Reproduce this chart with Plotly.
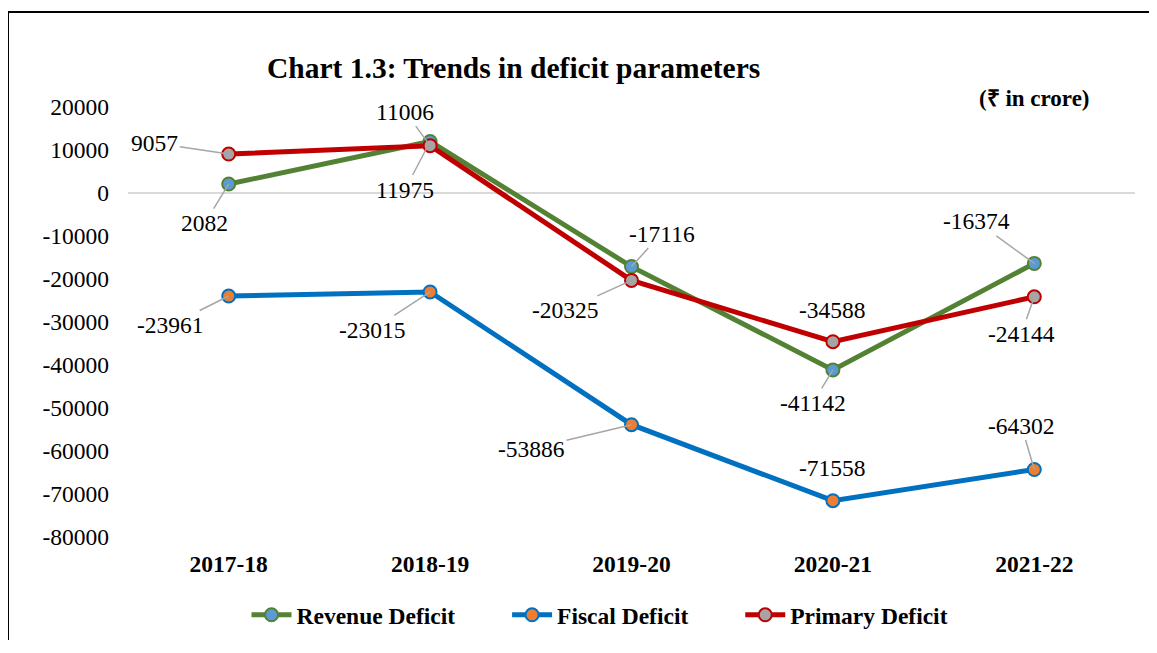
import plotly.graph_objects as go

years = ["2017-18", "2018-19", "2019-20", "2020-21", "2021-22"]
revenue = [2082, 11975, -17116, -41142, -16374]
fiscal = [-23961, -23015, -53886, -71558, -64302]
primary = [9057, 11006, -20325, -34588, -24144]
y_ticks = [20000, 10000, 0, -10000, -20000, -30000, -40000, -50000, -60000, -70000, -80000]

# label offsets (pixels) from each point, and whether a leader line is drawn
rev_off = [(-24, 39), (-25, 48), (30, -33), (-20, 33), (-58, -42)]
fis_off = [(-58, 29), (-58, 38), (-100, 24), (0, -33), (-13, -44)]
pri_off = [(-74, -11), (-25, -34), (-66, 30), (0, -32), (-13, 37)]
rev_lead = [True, True, True, True, True]
fis_lead = [True, True, True, False, True]
pri_lead = [True, True, True, False, True]

FONT = "Liberation Serif, Times New Roman, serif"
FS = 23.5
PAD = "\u00a0" * 8

series = [
    ("Revenue Deficit", revenue, "#548235", "#5B9BD5", rev_off, rev_lead),
    ("Fiscal Deficit", fiscal, "#0070C0", "#ED7D31", fis_off, fis_lead),
    ("Primary Deficit", primary, "#C00000", "#A5A5A5", pri_off, pri_lead),
]

fig = go.Figure()
annotations = []
for i, (name, vals, lc, mc, offs, leads) in enumerate(series):
    fig.add_trace(go.Scatter(
        x=years, y=vals, name=name + (PAD if i < len(series) - 1 else ""),
        mode="lines+markers",
        line=dict(color=lc, width=5),
        marker=dict(size=13, color=mc, line=dict(color=lc, width=2)),
    ))
    for xv, yv, (ax, ay), ld in zip(years, vals, offs, leads):
        annotations.append(dict(
            x=xv, y=yv, xref="x", yref="y", text=str(yv),
            showarrow=True, arrowhead=0, arrowwidth=1.5,
            arrowcolor="#A6A6A6" if ld else "rgba(0,0,0,0)",
            standoff=0, ax=ax, ay=ay,
            font=dict(family=FONT, size=FS, color="black"),
        ))

# screen positions below are page pixels; the page body adds an 8px offset
annotations.append(dict(
    text="<b>Chart 1.3: Trends in deficit parameters</b>",
    xref="paper", yref="paper", x=(513 - 128) / 1007, y=(537 - 68) / 430,
    xanchor="center", yanchor="middle", showarrow=False,
    font=dict(family=FONT, size=29.5, color="black"),
))
annotations.append(dict(
    text="<b>(₹ in crore)</b>",
    xref="paper", yref="paper", x=(1092 - 128) / 1007, y=(537 - 98) / 430,
    xanchor="right", yanchor="middle", showarrow=False,
    font=dict(family=FONT, size=23, color="black"),
))

bx = (8 - 128) / 1007
by = (537 - 12) / 430
fig.update_layout(
    width=1141, height=632,
    margin=dict(l=120, r=14, t=99, b=103, autoexpand=False),
    paper_bgcolor="white", plot_bgcolor="white",
    font=dict(family=FONT, size=FS, color="black"),
    showlegend=True,
    legend=dict(
        orientation="h", x=(600 - 128) / 1007, y=(537 - 615) / 430,
        xanchor="center", yanchor="middle",
        font=dict(family=FONT, size=FS, color="black", weight="bold"),
        itemwidth=40, traceorder="normal",
    ),
    annotations=annotations,
    shapes=[
        dict(type="line", xref="paper", yref="paper", x0=bx, x1=bx, y0=-0.5, y1=by,
             line=dict(color="black", width=2), layer="below"),
        dict(type="line", xref="paper", yref="paper", x0=bx, x1=1.05, y0=by, y1=by,
             line=dict(color="black", width=2), layer="below"),
    ],
)
fig.update_xaxes(
    type="category", range=[-0.5, 4.5], showgrid=False, showline=False,
    zeroline=False, ticks="", ticklabelstandoff=10,
    tickfont=dict(family=FONT, size=FS, color="black", weight="bold"),
)
fig.update_yaxes(
    range=[-80000, 20000], tickvals=y_ticks, ticktext=[str(v) for v in y_ticks],
    showgrid=False, showline=False, zeroline=True, zerolinecolor="#D9D9D9",
    zerolinewidth=2, ticks="", ticklabelstandoff=18,
    tickfont=dict(family=FONT, size=FS, color="black"),
)

fig.write_html("out.html")
